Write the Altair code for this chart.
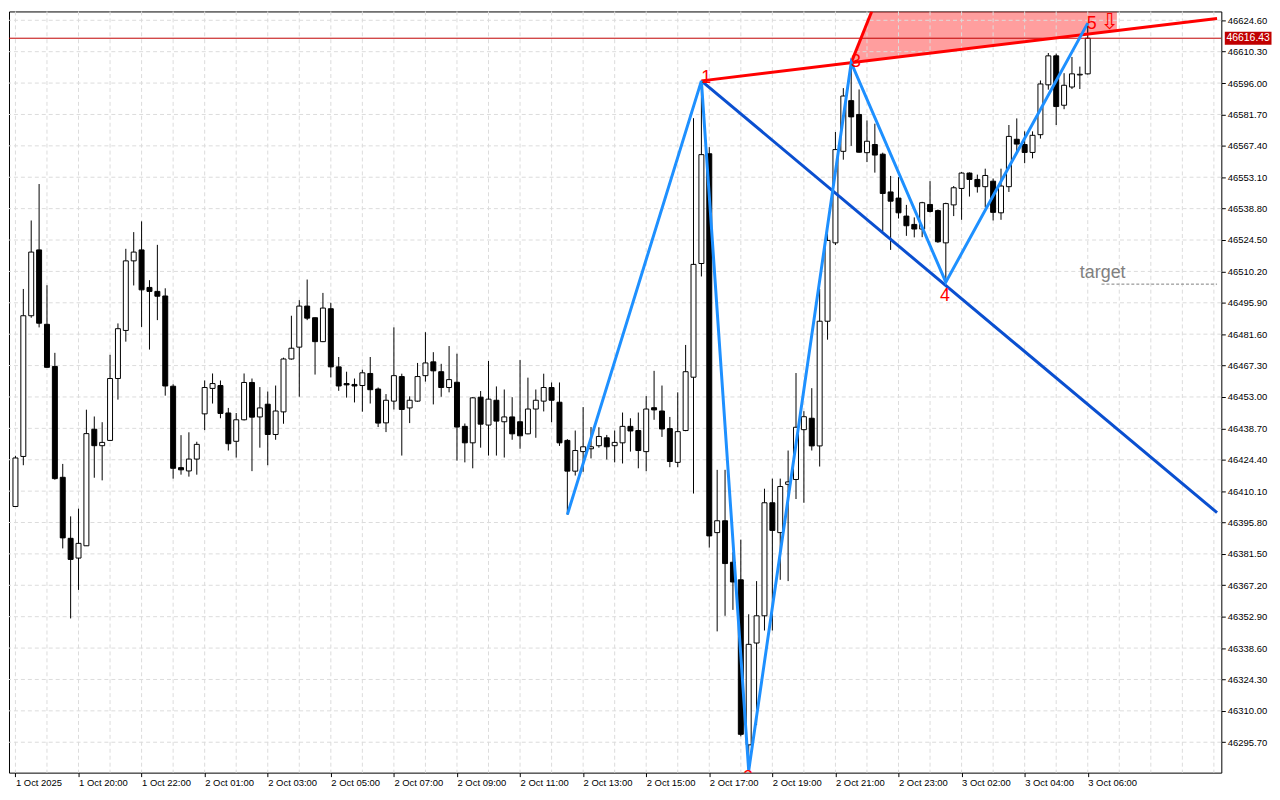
import altair as alt
import pandas as pd

# ---------------- data ----------------
OPEN = [46403.1, 46425.9, 46490.0, 46520.0, 46486.1, 46466.9, 46416.4, 46388.6, 46379.6, 46385.2,
        46438.3, 46430.8, 46433.2, 46461.4, 46483.3, 46515.0, 46520.0, 46502.9, 46501.1, 46499.0,
        46457.9, 46420.8, 46419.3, 46424.7, 46445.3, 46456.9, 46458.2, 46445.7, 46432.8, 46442.6,
        46459.6, 46443.9, 46449.7, 46435.9, 46446.2, 46470.3, 46475.7, 46494.4, 46489.1, 46478.2,
        46493.2, 46466.7, 46459.1, 46458.7, 46458.2, 46463.7, 46456.6, 46441.2, 46451.1, 46462.3,
        46448.0, 46451.1, 46462.7, 46469.0, 46464.5, 46457.3, 46459.7, 46439.6, 46432.1, 46452.9,
        46440.2, 46451.5, 46441.7, 46443.9, 46441.7, 46436.2, 46447.5, 46451.1, 46457.3, 46450.6,
        46433.2, 46419.2, 46428.1, 46429.4, 46430.8, 46434.4, 46430.8, 46432.1, 46439.6, 46437.7,
        46428.1, 46448.1, 46446.6, 46438.6, 46423.2, 46437.7, 46462.0, 46513.8, 46563.8, 46391.2,
        46396.6, 46377.7, 46369.7, 46294.5, 46340.9, 46353.3, 46404.8, 46391.2, 46413.2, 46415.4,
        46438.1, 46443.3, 46430.7, 46487.5, 46523.2, 46564.9, 46588.0, 46581.7, 46564.3, 46568.0,
        46563.6, 46546.4, 46543.6, 46535.4, 46531.6, 46529.5, 46540.7, 46537.9, 46523.2, 46540.5,
        46548.0, 46555.0, 46552.1, 46548.8, 46551.3, 46536.9, 46548.8, 46570.4, 46568.0, 46564.4,
        46572.5, 46595.2, 46608.4, 46585.9, 46594.2, 46599.7, 46600.2]
HIGH = [46426.2, 46502.2, 46533.4, 46550.0, 46503.9, 46473.1, 46422.5, 46398.6, 46402.1, 46447.2,
        46444.1, 46441.5, 46472.2, 46486.5, 46520.5, 46528.1, 46533.0, 46506.2, 46522.3, 46502.5,
        46458.8, 46435.6, 46436.9, 46432.6, 46460.5, 46463.7, 46460.5, 46448.0, 46445.7, 46463.7,
        46461.4, 46457.5, 46455.5, 46458.2, 46470.9, 46490.0, 46497.1, 46506.5, 46489.2, 46500.4,
        46495.9, 46471.2, 46464.5, 46461.4, 46465.4, 46471.2, 46457.3, 46454.3, 46484.7, 46463.6,
        46453.3, 46468.5, 46482.5, 46473.4, 46468.1, 46476.2, 46472.7, 46440.9, 46453.0, 46455.7,
        46469.4, 46457.8, 46456.4, 46452.9, 46469.8, 46461.8, 46456.4, 46463.6, 46459.6, 46459.6,
        46433.8, 46437.7, 46448.4, 46439.3, 46439.2, 46435.7, 46437.7, 46445.9, 46443.3, 46445.9,
        46453.4, 46464.9, 46458.2, 46443.9, 46455.1, 46476.7, 46580.0, 46597.0, 46566.8, 46419.8,
        46419.8, 46382.3, 46388.0, 46354.0, 46369.1, 46411.2, 46415.8, 46415.8, 46428.6, 46463.9,
        46446.5, 46457.0, 46502.2, 46531.6, 46573.7, 46593.7, 46605.3, 46593.1, 46579.0, 46577.5,
        46564.3, 46553.7, 46553.1, 46540.5, 46534.8, 46541.9, 46551.3, 46538.4, 46541.5, 46549.1,
        46555.5, 46555.3, 46554.3, 46557.0, 46552.5, 46557.0, 46576.9, 46579.9, 46574.0, 46574.0,
        46597.2, 46609.7, 46609.4, 46600.5, 46607.9, 46603.5, 46623.3]
LOW = [46403.0, 46421.9, 46489.1, 46484.7, 46466.4, 46415.3, 46384.0, 46352.1, 46365.1, 46385.1,
       46416.2, 46415.0, 46432.9, 46451.8, 46478.2, 46503.8, 46484.9, 46474.6, 46488.0, 46453.6,
       46415.8, 46417.6, 46416.7, 46417.6, 46437.9, 46450.0, 46443.3, 46428.6, 46425.4, 46442.3,
       46419.2, 46429.9, 46421.9, 46433.5, 46440.8, 46470.0, 46453.1, 46488.0, 46463.2, 46478.0,
       46461.9, 46455.8, 46452.7, 46450.5, 46446.3, 46450.0, 46439.3, 46437.0, 46447.3, 46426.3,
       46441.1, 46450.8, 46460.0, 46449.6, 46453.1, 46455.1, 46424.0, 46423.2, 46420.5, 46429.9,
       46426.3, 46426.3, 46425.4, 46433.5, 46429.4, 46436.0, 46434.4, 46446.4, 46441.5, 46430.7,
       46399.4, 46417.2, 46418.9, 46425.0, 46429.9, 46424.5, 46423.2, 46422.7, 46428.1, 46420.5,
       46419.2, 46442.6, 46434.8, 46421.0, 46421.0, 46437.4, 46409.0, 46507.9, 46384.4, 46346.2,
       46353.3, 46356.0, 46298.4, 46282.7, 46303.5, 46346.6, 46346.6, 46369.7, 46369.1, 46406.5,
       46404.8, 46428.6, 46421.3, 46479.1, 46522.2, 46561.1, 46567.4, 46564.3, 46560.0, 46555.2,
       46528.5, 46520.0, 46534.3, 46526.4, 46525.7, 46525.8, 46537.0, 46523.2, 46505.3, 46535.4,
       46533.7, 46544.3, 46546.1, 46539.4, 46533.4, 46533.7, 46546.4, 46564.7, 46559.5, 46561.7,
       46570.7, 46593.0, 46576.9, 46584.1, 46593.3, 46593.3, 46599.9]
CLOSE = [46425.2, 46490.0, 46519.0, 46486.6, 46466.5, 46415.8, 46388.8, 46379.0, 46386.3, 46436.3,
         46430.8, 46432.3, 46461.4, 46484.1, 46515.0, 46519.0, 46501.8, 46501.1, 46498.9, 46458.0,
         46420.5, 46419.8, 46424.7, 46431.4, 46457.3, 46459.1, 46445.5, 46431.7, 46442.6, 46459.6,
         46443.8, 46448.0, 46435.9, 46446.6, 46470.3, 46475.2, 46494.4, 46488.9, 46478.2, 46493.5,
         46466.7, 46458.0, 46458.5, 46458.0, 46464.0, 46456.3, 46441.1, 46451.5, 46462.7, 46447.3,
         46451.5, 46462.3, 46468.5, 46464.9, 46457.3, 46460.9, 46439.3, 46432.1, 46452.6, 46440.6,
         46452.0, 46442.0, 46443.9, 46436.2, 46435.3, 46447.5, 46451.5, 46457.3, 46451.5, 46432.1,
         46419.2, 46428.6, 46430.3, 46430.3, 46435.0, 46430.3, 46432.3, 46439.6, 46437.5, 46428.6,
         46447.5, 46447.1, 46438.4, 46423.6, 46437.2, 46464.5, 46513.4, 46563.4, 46389.7, 46396.6,
         46377.1, 46368.7, 46299.3, 46340.3, 46353.3, 46404.8, 46392.2, 46412.2, 46414.3, 46439.2,
         46444.0, 46430.7, 46487.5, 46524.3, 46565.7, 46590.1, 46580.6, 46564.5, 46569.5, 46563.2,
         46545.7, 46542.2, 46536.9, 46531.0, 46529.5, 46541.5, 46537.5, 46523.7, 46541.1, 46548.3,
         46555.0, 46552.1, 46548.8, 46553.9, 46537.1, 46549.1, 46571.7, 46568.2, 46564.4, 46572.2,
         46595.6, 46608.4, 46585.3, 46595.0, 46600.2, 46600.0, 46616.43]

X_LABELS = ["1 Oct 2025", "1 Oct 20:00", "1 Oct 22:00", "2 Oct 01:00", "2 Oct 03:00",
            "2 Oct 05:00", "2 Oct 07:00", "2 Oct 09:00", "2 Oct 11:00", "2 Oct 13:00",
            "2 Oct 15:00", "2 Oct 17:00", "2 Oct 19:00", "2 Oct 21:00", "2 Oct 23:00",
            "3 Oct 02:00", "3 Oct 04:00", "3 Oct 06:00"]
X_LABEL_STEP = 8
X_GRID_STEP = 4
Y_TICKS = [46624.60, 46610.30, 46596.00, 46581.70, 46567.40, 46553.10, 46538.80, 46524.50,
           46510.20, 46495.90, 46481.60, 46467.30, 46453.00, 46438.70, 46424.40, 46410.10,
           46395.80, 46381.50, 46367.20, 46352.90, 46338.60, 46324.30, 46310.00, 46295.70]

# Wolfe wave pattern
ZZ_IDX = [70, 87, 93, 106, 118, 136]
ZZ_PRICE = [46399.4, 46597.0, 46282.7, 46605.3, 46505.3, 46623.3]
L13_IDX = [87, 152.4]
L13_PRICE = [46597.0, 46625.4]
L14_IDX = [87, 152.4]
L14_PRICE = [46597.0, 46400.3]
STEEP_IDX = [106, 108.6]
STEEP_PRICE = [46605.3, 46628.6]
ZONE_IDX = [106, 108.6, 139.7]
ZONE_LOW = [46605.3, 46606.4, 46620.0]
ZONE_HIGH = [46605.3, 46628.6, 46628.6]
CURRENT_PRICE = [46616.43]
TARGET_IDX = [137.75, 152.4]
TARGET_PRICE = [46504.4, 46504.4]
TARGET_TEXT_IDX = [137.9]
TARGET_TEXT_PRICE = [46509.3]
PT_LABELS = ["1", "2", "3", "4", "5"]
PT_IDX = [87.6, 92.9, 106.6, 117.9, 136.5]
PT_PRICE = [46598.2, 46279.2, 46605.4, 46499.0, 46622.8]
ARROW_IDX = [138.75]
ARROW_PRICE = [46623.7]

# ---------------- layout ----------------
W, H = 1220, 766
FONT = "Liberation Sans"
xs = alt.Scale(domain=[-0.1875, 152.3125], nice=False, zero=False)
ys = alt.Scale(domain=[46281.85, 46628.63], nice=False, zero=False)

n = len(OPEN)
candles = pd.DataFrame({
    "i": list(range(n)), "open": OPEN, "high": HIGH, "low": LOW, "close": CLOSE,
})
candles["dir"] = ["up" if c >= o else "down" for o, c in zip(OPEN, CLOSE)]

label_arr = "[" + ",".join("'" + s + "'" for s in X_LABELS) + "]"
x_axis = alt.Axis(
    values=[k * X_LABEL_STEP for k in range(len(X_LABELS))],
    labelExpr=f"{label_arr}[round(datum.value/{X_LABEL_STEP})]",
    title=None, grid=False, domain=False, tickSize=4, tickColor="black",
    labelAlign="left", labelBaseline="top", labelPadding=1, labelFont=FONT,
    labelFontSize=9.5, labelColor="black", labelOverlap=False, labelBound=False,
    labelFlush=False,
)
y_axis = alt.Axis(
    orient="right", values=Y_TICKS, format=".2f", title=None, grid=False,
    domain=False, tickSize=4, tickColor="black", labelPadding=2, labelFont=FONT,
    labelFontSize=9.5, labelColor="black", labelOverlap=False, labelBound=False,
    labelFlush=False,
)


def X(field):
    return alt.X(field, scale=xs, axis=x_axis)


def Y(field):
    return alt.Y(field, scale=ys, axis=y_axis)


GRID = "#DCDCDC"

zone = alt.Chart(pd.DataFrame({"i": ZONE_IDX, "lo": ZONE_LOW, "hi": ZONE_HIGH})).mark_area(
    color="#FF0000", opacity=0.38, clip=True
).encode(x=X("i:Q"), y=Y("lo:Q"), y2="hi:Q")

vgrid = alt.Chart(pd.DataFrame({"i": list(range(0, 153, X_GRID_STEP))})).mark_rule(
    color=GRID, strokeDash=[4, 3], strokeWidth=1
).encode(x=X("i:Q"))

hgrid = alt.Chart(pd.DataFrame({"p": Y_TICKS})).mark_rule(
    color=GRID, strokeDash=[4, 3], strokeWidth=1
).encode(y=Y("p:Q"))

base = alt.Chart(candles)
wicks = base.mark_rule(color="black", strokeWidth=1, clip=True).encode(
    x=X("i:Q"), y=Y("low:Q"), y2="high:Q",
)
bodies = base.mark_bar(size=5, stroke="black", strokeWidth=1, clip=True).encode(
    x=X("i:Q"), y=Y("open:Q"), y2="close:Q",
    fill=alt.Fill("dir:N", scale=alt.Scale(domain=["up", "down"], range=["white", "black"]),
                  legend=None),
)

cur_line = alt.Chart(pd.DataFrame({"p": CURRENT_PRICE})).mark_rule(
    color="#C00000", strokeWidth=1
).encode(y=Y("p:Q"))

target_line = alt.Chart(pd.DataFrame({"i": TARGET_IDX, "p": TARGET_PRICE})).mark_line(
    color="#808080", strokeDash=[3, 2], strokeWidth=1, clip=True
).encode(x=X("i:Q"), y=Y("p:Q"))

line14 = alt.Chart(pd.DataFrame({"i": L14_IDX, "p": L14_PRICE})).mark_line(
    color="#0A4FD0", strokeWidth=3, clip=True
).encode(x=X("i:Q"), y=Y("p:Q"))

red_df = pd.DataFrame({
    "i": L13_IDX + STEEP_IDX,
    "p": L13_PRICE + STEEP_PRICE,
    "g": ["a"] * len(L13_IDX) + ["b"] * len(STEEP_IDX),
})
red_lines = alt.Chart(red_df).mark_line(color="#FF0000", strokeWidth=3, clip=True).encode(
    x=X("i:Q"), y=Y("p:Q"), detail="g:N"
)

zigzag = alt.Chart(pd.DataFrame({"i": ZZ_IDX, "p": ZZ_PRICE})).mark_line(
    color="#1E90FF", strokeWidth=3, clip=True
).encode(x=X("i:Q"), y=Y("p:Q"))

pt_labels = alt.Chart(pd.DataFrame({"i": PT_IDX, "p": PT_PRICE, "t": PT_LABELS})).mark_text(
    color="#FF0000", font=FONT, fontSize=18, align="center", baseline="middle", clip=True
).encode(x=X("i:Q"), y=Y("p:Q"), text="t:N")

arrow = alt.Chart(pd.DataFrame({"i": ARROW_IDX, "p": ARROW_PRICE, "t": ["⇩"]})).mark_text(
    color="#FF0000", font="DejaVu Sans", fontSize=22, align="center", baseline="middle",
    clip=True
).encode(x=X("i:Q"), y=Y("p:Q"), text="t:N")

target_text = alt.Chart(pd.DataFrame({"i": TARGET_TEXT_IDX, "p": TARGET_TEXT_PRICE,
                                      "t": ["target"]})).mark_text(
    color="#808080", font=FONT, fontSize=18, align="center", baseline="middle"
).encode(x=X("i:Q"), y=Y("p:Q"), text="t:N")

cur_df = pd.DataFrame({"p": CURRENT_PRICE, "t": [f"{v:.2f}" for v in CURRENT_PRICE]})
price_box = alt.Chart(cur_df).mark_tick(
    color="#C00000", orient="horizontal", thickness=13, size=47, opacity=1
).encode(x=alt.value(W + 27), y=Y("p:Q"))
price_text = alt.Chart(cur_df).mark_text(
    color="white", font=FONT, fontSize=10.5, align="center", baseline="middle"
).encode(x=alt.value(W + 27), y=Y("p:Q"), text="t:N")

chart = alt.layer(
    zone, vgrid, hgrid, wicks, bodies, cur_line, target_line, line14, red_lines, zigzag,
    pt_labels, arrow, target_text, price_box, price_text,
).properties(
    width=W, height=H, padding={"left": 0, "top": 0, "right": 0, "bottom": 0},
    background="white",
).configure_view(
    stroke="black", strokeWidth=1
)

chart.save("out.html", embed_options={"renderer": "svg", "actions": False})
